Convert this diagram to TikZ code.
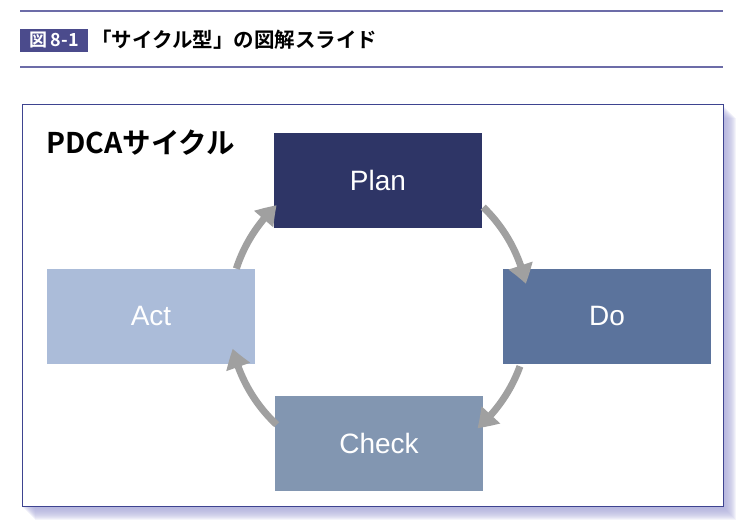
\documentclass[tikz,border=0pt]{standalone}
\usepackage{fontspec}
\setmainfont{Liberation Sans}
\newfontfamily\jpb{Noto Sans CJK JP Bold}
\newfontfamily\arialf{Liberation Sans}
\usetikzlibrary{arrows.meta,bending}
\definecolor{rulec}{HTML}{6C6CA8}
\definecolor{badgec}{HTML}{4B4B8C}
\definecolor{framec}{HTML}{3E4490}
\definecolor{shadc}{HTML}{A8A8D8}
\definecolor{planc}{HTML}{2E3566}
\definecolor{doc}{HTML}{5B739C}
\definecolor{actc}{HTML}{ABBCD9}
\definecolor{checkc}{HTML}{8296B1}
\definecolor{arrc}{HTML}{A0A0A0}
\tikzset{
  pdcabox/.style={rectangle, minimum width=208pt, minimum height=95pt, inner sep=0pt,
    text=white, font=\arialf\fontsize{28}{32}\selectfont},
  cyc/.style={draw=arrc, line width=7pt, -{Triangle[length=19pt,width=24pt,bend]}},
}
\begin{document}
\begin{tikzpicture}[x=1pt,y=1pt]
\useasboundingbox (0,0) rectangle (750,525);
% header
\draw[rulec, line width=1.5pt] (20,514) -- (723,514);
\draw[rulec, line width=2.5pt] (20,458) -- (723,458);
\node[fill=badgec, minimum width=68pt, minimum height=23pt, inner sep=0pt, anchor=south west,
  text=white, font=\jpb\fontsize{18}{20}\selectfont] (badge) at (20,473) {図\,8-1};
\node[anchor=west, inner sep=0pt, font=\jpb\fontsize{20.5}{24}\selectfont] (title) at (91,485) {「サイクル型」の図解スライド};
% frame shadow
\foreach \i in {1,...,13} {
  \fill[shadc, opacity=0.13] (22+\i,18-\i) rectangle (723+\i,420-\i);
}
\node[draw=framec, line width=1.3pt, fill=white, minimum width=701pt, minimum height=402pt,
  inner sep=0pt, anchor=south west] (frame) at (22,18) {};
\node[anchor=west, inner sep=0pt, font=\jpb\fontsize{28.5}{32}\selectfont] (head) at (46,382) {PDCAサイクル};
% boxes
\node[pdcabox, fill=planc] (plan) at (378,344.5) {Plan};
\node[pdcabox, fill=doc] (do) at (607,208.5) {Do};
\node[pdcabox, fill=actc] (act) at (151,208.5) {Act};
\node[pdcabox, fill=checkc] (check) at (379,81.5) {Check};
% arrows
\coordinate (c) at (379,210);
\draw[cyc] ([shift={(162:150)}]c) arc[start angle=162, end angle=133, radius=150];
\draw[cyc] ([shift={(46:150)}]c) arc[start angle=46, end angle=12, radius=150];
\draw[cyc] ([shift={(-20:150)}]c) arc[start angle=-20, end angle=-49, radius=150];
\draw[cyc] ([shift={(-133:150)}]c) arc[start angle=-133, end angle=-167, radius=150];
\end{tikzpicture}
\end{document}
